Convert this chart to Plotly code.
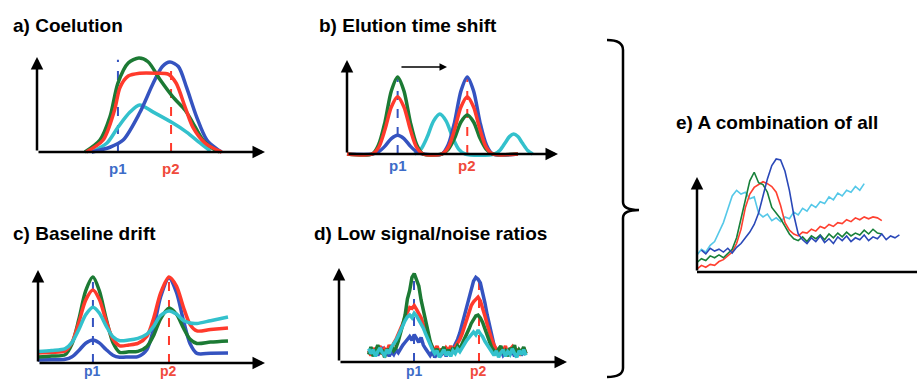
import plotly.graph_objects as go

W, H = 917, 379

BLUE = "#3553c0"
RED = "#ff3a2c"
GREEN = "#1c7a34"
CYAN = "#33c1cc"
E_BLUE = "#2a48b8"
E_RED = "#ff4030"
E_GREEN = "#17803a"
E_CYAN = "#55c8e8"
LBL_BLUE = "#3d6cc8"
LBL_RED = "#f04a3c"

# ---------------- data ----------------
titles = ["a) Coelution", "b) Elution time shift", "c) Baseline drift",
          "d) Low signal/noise ratios", "e) A combination of all"]

# panel a: coelution
a_p1, a_p2 = 35.5, 58.8
a_green_x = [21, 27.6, 32, 35.5, 40, 44.7, 48.7, 54, 59.6, 65, 68.4, 72.8, 77, 80]
a_green_y = [0, 12.6, 37, 72.6, 93.7, 99, 95, 76, 58, 44, 30.5, 12.6, 4, 0]
a_blue_x = [24, 32, 37.8, 45, 51, 55, 58.3, 62, 65.6, 70, 74.5, 79, 81]
a_blue_y = [0, 5, 12.6, 41, 72.6, 90, 94.7, 90, 68, 37, 12.6, 3, 0]
a_red_x = [21.6, 29, 34, 36.4, 40, 45, 52.6, 57.5, 61, 65, 68.4, 73.7, 79, 81]
a_red_y = [0, 12.6, 44, 68, 80, 83, 83, 82, 72.6, 47, 26, 9.5, 2, 0]
a_cyan_x = [24, 30.7, 35.5, 40.8, 45, 51, 59.6, 65.6, 71.5, 76]
a_cyan_y = [0, 9.5, 26, 42, 49.5, 42, 30.5, 21, 9.5, 1]

# panel b: elution time shift
b_p1, b_p2 = 24, 57
b_x = [0, 12, 15, 18, 21, 24, 27, 30, 33, 36, 45, 48, 51, 54, 57, 60, 63, 66, 69, 81]
b_green = [0, 0, 10, 34, 67, 82, 67, 34, 10, 0, 0, 5, 17, 34, 41.5, 34, 17, 5, 0, 0]
b_red = [0, 0, 7, 26, 50, 61, 50, 26, 7, 0, 0, 7, 26, 50, 61, 50, 26, 7, 0, 0]
b_blue = [0, 0, 2.4, 8.4, 16.4, 20, 16.4, 8.4, 2.4, 0, 0, 10, 34, 67, 82, 67, 34, 10, 0, 0]
b_cyan_x = [32, 35, 38, 41, 44, 47, 50, 53, 56, 70, 72.5, 75, 77, 79, 81, 83, 85.5, 88]
b_cyan = [0, 5, 18, 35, 42.5, 35, 18, 5, 0, 0, 4, 12, 18.5, 21.3, 18.5, 12, 4, 0]

# panel c: baseline drift
c_p1, c_p2 = 24.2, 57.7
c_x = [0, 6, 12, 15, 18, 21, 24.2, 27, 30, 33, 36, 40, 44, 48, 51, 54, 57.7, 61, 64, 67, 70, 76, 83.7]
c_green = [6.5, 7.5, 9, 20.6, 47, 77.6, 92.5, 77.8, 47.9, 22, 11.5, 12, 12.5, 17.8, 30, 47.5, 59, 52.4, 37.9, 25.5, 21, 22.5, 23.7]
c_red = [10.8, 11.5, 13, 22.3, 43.6, 67.6, 78.5, 68.6, 45.6, 25.8, 18.5, 19.4, 21, 28.9, 48.6, 75.1, 92.5, 82.7, 60.5, 41.5, 34.5, 36, 37.6]
c_cyan = [12.5, 13.5, 15.5, 22.2, 36, 51.8, 60, 53.8, 40, 28.2, 24, 24.7, 26.5, 31, 39.6, 51, 56, 52.6, 46, 43, 42.5, 45.5, 49.5]
c_blue = [3.2, 3.5, 4, 6.8, 13.5, 21.2, 24.7, 21.6, 14.5, 8.4, 6.2, 6.5, 6.8, 14.6, 37.7, 71, 91.4, 76, 46.4, 20.7, 10.3, 10.5, 10.8]

# panel d: low signal/noise ratios
d_p1, d_p2 = 32.9, 61.4
d_x = list(range(13, 83))
d_green = [8, 16, 6, 12, 18, 9, 13, 5, 14, 10, 17, 12, 15, 22, 30, 40, 50, 67, 76, 90,
           94, 87, 81, 66, 55, 41, 30, 22, 15, 10, 14, 7, 12, 16, 9, 13, 8, 15, 11, 17,
           14, 19, 23, 28, 35, 41, 46, 49, 50, 47, 42, 35, 27, 21, 15, 12, 8, 14, 17, 9,
           12, 6, 15, 11, 18, 7, 13, 10, 16, 9]
d_red = [12, 7, 15, 9, 13, 17, 8, 14, 11, 18, 13, 20, 24, 29, 35, 41, 48, 53, 58, 57,
         60, 56, 52, 47, 40, 33, 27, 20, 16, 12, 17, 10, 14, 9, 15, 12, 17, 11, 16, 20,
         24, 30, 37, 45, 53, 60, 64, 67, 69, 65, 58, 49, 40, 31, 24, 18, 13, 9, 15, 11,
         17, 8, 13, 16, 10, 14, 7, 12, 15, 9]
d_cyan = [14, 9, 13, 6, 11, 15, 10, 7, 13, 9, 16, 19, 23, 28, 34, 39, 44, 48, 50, 47,
          52, 49, 45, 41, 36, 30, 24, 18, 13, 9, 12, 5, 10, 13, 7, 11, 6, 12, 9, 14,
          11, 16, 19, 23, 26, 30, 32, 29, 34, 30, 27, 22, 18, 14, 10, 7, 12, 5, 10, 13,
          6, 11, 8, 14, 9, 5, 12, 8, 13, 7]
d_blue = [10, 13, 8, 14, 7, 12, 16, 9, 12, 6, 11, 8, 13, 10, 15, 18, 21, 24, 27, 23,
          29, 25, 21, 26, 18, 14, 10, 7, 11, 5, 9, 13, 8, 11, 6, 12, 9, 14, 18, 24,
          31, 40, 50, 60, 70, 79, 86, 90, 88, 84, 75, 63, 50, 38, 27, 18, 12, 8, 13, 7,
          10, 14, 8, 12, 6, 10, 13, 7, 11, 8]

# panel e: a combination of all
e_cyan_x = list(range(0, 77, 2))
e_cyan = [18, 24, 21, 28, 32, 42, 52, 66, 80, 86, 82, 84, 77, 79, 62, 58, 61, 54, 57, 53,
          58, 56, 63, 60, 67, 64, 71, 68, 74, 72, 79, 76, 83, 80, 86, 84, 90, 86, 93]
e_green_x = list(range(0, 85, 2))
e_green = [10, 14, 12, 17, 15, 18, 15, 20, 24, 36, 55, 76, 96, 105, 94, 92, 84, 68, 62, 56,
           48, 40, 35, 33, 37, 32, 38, 35, 39, 34, 40, 36, 41, 37, 42, 38, 41, 39, 44, 40,
           45, 41, 40]
e_red_x = list(range(0, 85, 2))
e_red = [3, 7, 5, 8, 7, 11, 13, 17, 21, 30, 45, 68, 82, 89, 92, 95, 93, 90, 84, 70,
         52, 44, 40, 38, 42, 41, 45, 43, 48, 46, 50, 48, 52, 51, 55, 53, 57, 55, 58, 56,
         58, 57, 54]
e_blue_x = list(range(2, 93, 2))
e_blue = [23, 19, 25, 22, 24, 21, 25, 20, 26, 30, 36, 42, 50, 62, 80, 98, 112, 119, 118, 106,
          86, 60, 40, 34, 30, 36, 32, 38, 31, 35, 30, 37, 33, 38, 32, 36, 34, 39, 33, 37,
          35, 40, 34, 38, 36, 39]

# ---------------- geometry (pixels) ----------------
# origin px, px per unit, box [left, right, top, bottom]
geo = {
    "a": dict(o=(37, 152), s=(2.28, 0.95), box=(15, 290, 40, 185)),
    "b": dict(o=(347, 154), s=(2.11, 0.94), box=(330, 575, 40, 185)),
    "c": dict(o=(38, 363), s=(2.27, 0.93), box=(15, 290, 255, 379)),
    "d": dict(o=(339, 362), s=(2.28, 0.94), box=(320, 590, 255, 379)),
    "e": dict(o=(697, 272), s=(2.2, 0.95), box=(660, 917, 140, 290)),
}

fig = go.Figure()
layout_axes = {}
refs = {}
for i, key in enumerate(["a", "b", "c", "d", "e"]):
    g = geo[key]
    (ox, oy), (sx, sy), (L, R, T, B) = g["o"], g["s"], g["box"]
    n = "" if i == 0 else str(i + 1)
    layout_axes["xaxis" + n] = dict(domain=[L / W, R / W], range=[(L - ox) / sx, (R - ox) / sx],
                                    visible=False, fixedrange=True, anchor="y" + n)
    layout_axes["yaxis" + n] = dict(domain=[1 - B / H, 1 - T / H], range=[(oy - B) / sy, (oy - T) / sy],
                                    visible=False, fixedrange=True, anchor="x" + n)
    refs[key] = ("x" + n, "y" + n)


def line(key, x, y, color, width=3.5, dash=None, shape="spline"):
    xr, yr = refs[key]
    fig.add_trace(go.Scatter(x=x, y=y, mode="lines", xaxis=xr, yaxis=yr,
                             line=dict(color=color, width=width, dash=dash, shape=shape,
                                       smoothing=0.8),
                             hoverinfo="skip", showlegend=False))


def dashed(key, xpos, ytop, color):
    line(key, [xpos, xpos], [0, ytop], color, width=2, dash="dash", shape="linear")


annotations = []
shapes = []


def arrow(key, x0, y0, x1, y1, width=2.5):
    xr, yr = refs[key]
    annotations.append(dict(x=x1, y=y1, ax=x0, ay=y0, xref=xr, yref=yr, axref=xr, ayref=yr,
                            text="", showarrow=True, arrowhead=2, arrowsize=1,
                            arrowwidth=width, arrowcolor="black", standoff=0, startstandoff=0))


def axes(key):
    arrow(key, 0, 0, 100, 0)
    arrow(key, 0, 0, 0, 100)


def plabel(key, xpos, text, color, ypx, size=15):
    xr, _ = refs[key]
    annotations.append(dict(x=xpos, y=1 - ypx / H, xref=xr, yref="paper", text="<b>%s</b>" % text,
                            showarrow=False, font=dict(size=size, color=color,
                                                       family="Liberation Sans, Arial"),
                            xanchor="center", yanchor="middle"))


# panel a
dashed("a", a_p1, 97, BLUE)
dashed("a", a_p2, 95, RED)
line("a", a_cyan_x, a_cyan_y, CYAN)
line("a", a_blue_x, a_blue_y, BLUE)
line("a", a_green_x, a_green_y, GREEN)
line("a", a_red_x, a_red_y, RED)
axes("a")
plabel("a", a_p1, "p1", LBL_BLUE, 168)
plabel("a", a_p2, "p2", LBL_RED, 168)

# panel b
dashed("b", b_p1, 80, BLUE)
dashed("b", b_p2, 80, RED)
line("b", b_cyan_x, b_cyan, CYAN)
line("b", b_x, b_blue, BLUE)
line("b", b_x, b_green, GREEN)
line("b", b_x, b_red, RED)
axes("b")
arrow("b", 25.1, 92.5, 47.4, 92.5, width=1.5)
plabel("b", b_p1, "p1", LBL_BLUE, 165)
plabel("b", b_p2, "p2", LBL_RED, 165)

# panel c
dashed("c", c_p1, 92, BLUE)
dashed("c", c_p2, 92, RED)
line("c", c_x, c_blue, BLUE)
line("c", c_x, c_green, GREEN)
line("c", c_x, c_red, RED)
line("c", c_x, c_cyan, CYAN)
axes("c")
plabel("c", c_p1, "p1", LBL_BLUE, 371, size=14)
plabel("c", c_p2, "p2", LBL_RED, 371, size=14)

# panel d
dashed("d", d_p1, 92, BLUE)
dashed("d", d_p2, 90, RED)
line("d", d_x, d_blue, BLUE, width=3.5, shape="linear")
line("d", d_x, d_red, RED, width=3.5, shape="linear")
line("d", d_x, d_green, GREEN, width=3.5, shape="linear")
line("d", d_x, d_cyan, CYAN, width=3.5, shape="linear")
axes("d")
plabel("d", d_p1, "p1", LBL_BLUE, 371, size=14)
plabel("d", d_p2, "p2", LBL_RED, 371, size=14)

# panel e
line("e", e_cyan_x, e_cyan, E_CYAN, width=1.6, shape="linear")
line("e", e_red_x, e_red, E_RED, width=1.6, shape="linear")
line("e", e_green_x, e_green, E_GREEN, width=1.6, shape="linear")
line("e", e_blue_x, e_blue, E_BLUE, width=1.6, shape="linear")
arrow("e", 0, 0, 0, 100)
xr, yr = refs["e"]
shapes.append(dict(type="line", xref=xr, yref=yr, x0=0, y0=0, x1=100, y1=0,
                   line=dict(color="black", width=2.5)))

# titles
title_pos = [(11, 25), (317, 25), (11, 233), (312, 233), (674, 122)]
for t, (px, py) in zip(titles, title_pos):
    annotations.append(dict(x=px / W, y=1 - py / H, xref="paper", yref="paper",
                            text="<b>%s</b>" % t, showarrow=False, xanchor="left",
                            yanchor="middle",
                            font=dict(size=19, color="black", family="Liberation Sans, Arial")))


# curly bracket
def P(x, y):
    return "%.5f,%.5f" % (x / W, 1 - y / H)


path = ("M " + P(607, 40) + " Q " + P(623, 40) + " " + P(623, 50) +
        " L " + P(623, 202) + " Q " + P(623, 210) + " " + P(639, 210) +
        " Q " + P(623, 210) + " " + P(623, 218) +
        " L " + P(623, 368) + " Q " + P(623, 377) + " " + P(607, 377))
shapes.append(dict(type="path", xref="paper", yref="paper", path=path,
                   line=dict(color="black", width=2.5)))

fig.update_layout(width=W, height=H, margin=dict(l=0, r=0, t=0, b=0),
                  paper_bgcolor="white", plot_bgcolor="rgba(0,0,0,0)",
                  annotations=annotations, shapes=shapes, **layout_axes)

fig.write_html("out.html")
